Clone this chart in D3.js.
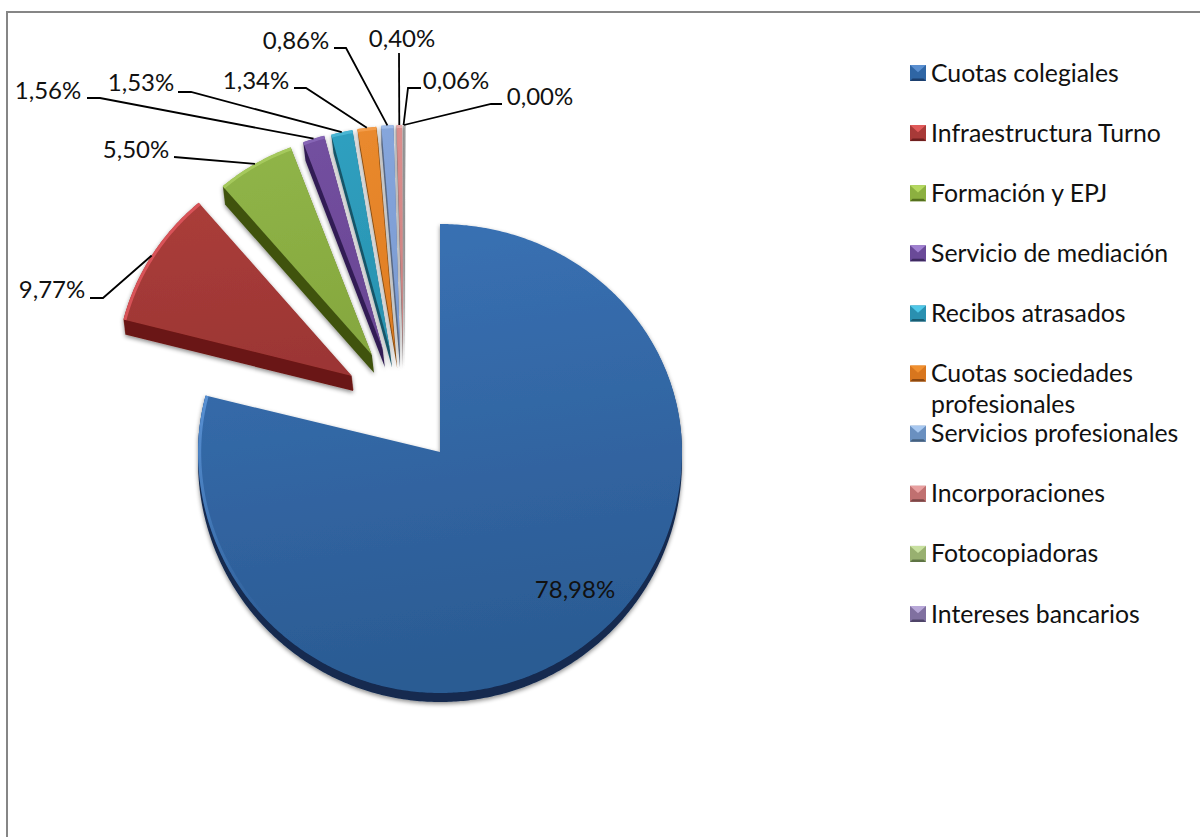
<!DOCTYPE html>
<html><head><meta charset="utf-8">
<script src="https://cdnjs.cloudflare.com/ajax/libs/d3/7.8.5/d3.min.js"></script>
<style>html,body{margin:0;padding:0;background:#fff}svg{display:block}text{font-family:Lato,"Open Sans",sans-serif;fill:#111}</style>
</head><body><svg id="c" width="1200" height="837"></svg>
<script>
// ---- data ----
const categories = ["Cuotas colegiales","Infraestructura Turno","Formación y EPJ","Servicio de mediación","Recibos atrasados","Cuotas sociedades profesionales","Servicios profesionales","Incorporaciones","Fotocopiadoras","Intereses bancarios"];
const seriesValues = [78.98,9.77,5.50,1.56,1.53,1.34,0.86,0.40,0.06,0.00];
// ---- styles ----
const topLight = ["#3a72b5","#ab3d3a","#90b548","#7350a0","#2fa0c0","#ea8a2e","#86a6dc","#dc8f8e","#a9a9a9","#a9a9a9"];
const topDark  = ["#2b5b93","#9c3634","#86a83f","#6a4694","#2a93b1","#e07e24","#7b9bd2","#d38483","#a0a0a0","#a0a0a0"];
const wallCol  = ["#12294f","#6b1512","#3f5210","#321e54","#155568","#874c12","#5a6a84","#8a8080","#a8a8a8","#a8a8a8"];
const rimCol   = ["#5d95d8","#e2575e","#a9cd60","#8a68b8","#4db8d6","#f4a050","#a5c0ea","#eab0b0","#b8b8b8","#b8b8b8"];
const swatchTop = ["#5a8fd0","#e05a5a","#b5d860","#a080d0","#50c8e8","#f09030","#a8c8f0","#e8a0a0","#c8e0a0","#b8a8d8"];
const swatchMid = ["#2f66a5","#a83a38","#8cb040","#6a4a98","#2a90b0","#d8761e","#6a90c0","#c07070","#98b070","#8070a0"];
const swatchDark= ["#1c3f6e","#6e1f1e","#55701e","#3e2a60","#185c72","#8c4810","#44607f","#7c4646","#5e7444","#4e4468"];
// ---- layout of the exploded pie (perspective differs per slice) ----
const sliceLayout = [
 {ax:440,ay:452,rx:242,up:228,down:241,depth:9,lean:0},
 {ax:352,ay:376,rx:236,up:228,down:228,depth:15,lean:0.12},
 {ax:372,ay:355,rx:230,up:222,down:222,depth:18,lean:0.12},
 {ax:383,ay:350,rx:226,up:222,down:222,depth:18,lean:0.12},
 {ax:390,ay:350,rx:226,up:223,down:223,depth:18,lean:0.12},
 {ax:395,ay:350,rx:226,up:224,down:224,depth:18,lean:0.12},
 {ax:400,ay:350,rx:226,up:225,down:225,depth:18,lean:0},
 {ax:403,ay:350,rx:226,up:225,down:225,depth:18,lean:0},
 {ax:404,ay:350,rx:226,up:225,down:225,depth:18,lean:0},
 {ax:404,ay:350,rx:226,up:225,down:225,depth:18,lean:0}];
// label centre and leader elbows; the leader's last point comes from the slice
const labelLayout = [
 {x:575,y:588,leader:[]},
 {x:52,y:288,leader:[[90,298],[103,298]]},
 {x:136,y:148,leader:[[174,157]]},
 {x:48,y:89,leader:[[87,98],[100,98]]},
 {x:141,y:81,leader:[[178,92],[191,92]]},
 {x:256,y:79,leader:[[294,88],[306,88]]},
 {x:296,y:39,leader:[[334,48],[346,48]]},
 {x:402,y:37,leader:[[399,53]]},
 {x:456,y:79,leader:[[421,88],[408,88]]},
 {x:540,y:95,leader:[[502,104],[491,104]]}];

const svg = d3.select("#c");
const FS = 24, LEG_FS = 24.8;
const defs = svg.append("defs");
const f = defs.append("filter").attr("id","sh").attr("x","-20%").attr("y","-20%").attr("width","140%").attr("height","140%");
f.append("feDropShadow").attr("dx",0).attr("dy",2).attr("stdDeviation",2).attr("flood-color","#000").attr("flood-opacity",0.45);
const rimFade = defs.append("linearGradient").attr("id","rimFade").attr("gradientUnits","userSpaceOnUse").attr("x1",0).attr("y1",395).attr("x2",0).attr("y2",620);
rimFade.append("stop").attr("offset",0).attr("stop-color",rimCol[0]).attr("stop-opacity",0.9);
rimFade.append("stop").attr("offset",1).attr("stop-color",rimCol[0]).attr("stop-opacity",0);

// frame: only top and left edges fall inside the picture
svg.append("path").attr("d",d3.line()([[1200,12],[7,12],[7,837]])).attr("fill","none").attr("stroke","#868686").attr("stroke-width",2);

const pie = d3.pie().sort(null).value(d=>d)(seriesValues);
const project = (i,a,k=1)=>{const g=sliceLayout[i],c=Math.cos(a),s=Math.sin(a);
  return [g.ax+k*g.rx*s, g.ay-k*(c>=0?g.up:g.down)*c];};
const samples = (a0,a1,i,k)=>{const n=Math.max(2,Math.ceil((a1-a0)/0.01));
  return d3.range(n+1).map(j=>project(i,a0+(a1-a0)*j/n,k));};
const line = d3.line();
const minSweep = 0.006;   // hairline slices remain visible as a sliver

const order = d3.range(seriesValues.length).reverse();
const slices = svg.append("g").selectAll("g").data(order).join("g").attr("filter","url(#sh)");
slices.each(function(i){
  const d=pie[i], g=sliceLayout[i], el=d3.select(this);
  const a1=Math.max(d.endAngle,d.startAngle+minSweep);
  const pts=[[g.ax,g.ay],...samples(d.startAngle,a1,i,1)];
  const wall=d3.range(1,g.depth+1).map(k=>line(pts.map(p=>[p[0]+k*g.lean,p[1]+k]))+"Z").join("");
  el.append("path").attr("d",wall).attr("fill",wallCol[i]);
  const id="grad"+i, lg=defs.append("linearGradient").attr("id",id).attr("x1",0).attr("y1",0).attr("x2",0.15).attr("y2",1);
  lg.append("stop").attr("offset",0).attr("stop-color",topLight[i]);
  lg.append("stop").attr("offset",1).attr("stop-color",topDark[i]);
  el.append("path").attr("d",line(pts)+"Z").attr("fill","url(#"+id+")");
  // bevel along the outer edge
  const from = i===0 ? 3.9 : d.startAngle, to = i===0 ? d.endAngle : a1;
  el.append("path").attr("d",line(samples(from,to,i,0.993))).attr("fill","none")
    .attr("stroke",i===0?"url(#rimFade)":rimCol[i]).attr("stroke-width",3).attr("stroke-opacity",i===0?1:0.85);
});

// leaders
const fmt = v=>d3.format(".2f")(v).replace(".",",")+"%";
const mid = i=>(pie[i].startAngle+pie[i].endAngle)/2;
svg.append("g").selectAll("path").data(d3.range(1,seriesValues.length)).join("path")
  .attr("d",i=>line([...labelLayout[i].leader,project(i,mid(i))]))
  .attr("fill","none").attr("stroke","#000").attr("stroke-width",1.8);

// value labels
svg.append("g").selectAll("text").data(seriesValues).join("text")
  .attr("x",(d,i)=>labelLayout[i].x).attr("y",(d,i)=>labelLayout[i].y)
  .attr("text-anchor","middle").attr("dominant-baseline","central")
  .attr("font-size",FS).text(fmt);

// legend
const rowY = d3.scaleLinear().domain([0,9]).range([73,614]);
const leg = svg.append("g").selectAll("g").data(categories).join("g")
  .attr("transform",(d,i)=>`translate(910,${rowY(i)-8})`);
const S=16,B=2.5;
const bevel = (pts)=>line(pts)+"Z";
leg.append("rect").attr("width",S).attr("height",S).attr("fill",(d,i)=>swatchMid[i]);
leg.append("path").attr("d",bevel([[0,0],[S,0],[S/2,S*0.45]])).attr("fill",(d,i)=>swatchTop[i]);
leg.append("path").attr("d",bevel([[0,S],[B,S-B],[S-B,S-B],[S,S]])).attr("fill",(d,i)=>swatchDark[i]);
const wrap = {"Cuotas sociedades profesionales":["Cuotas sociedades","profesionales"]};
leg.append("text").attr("x",21).attr("y",6.5).attr("font-size",LEG_FS).attr("dominant-baseline","central")
  .each(function(d){const t=d3.select(this);
    (wrap[d]||[d]).forEach((s,j)=>t.append("tspan").attr("x",21).attr("dy",j?31:0).text(s));});
</script></body></html>
